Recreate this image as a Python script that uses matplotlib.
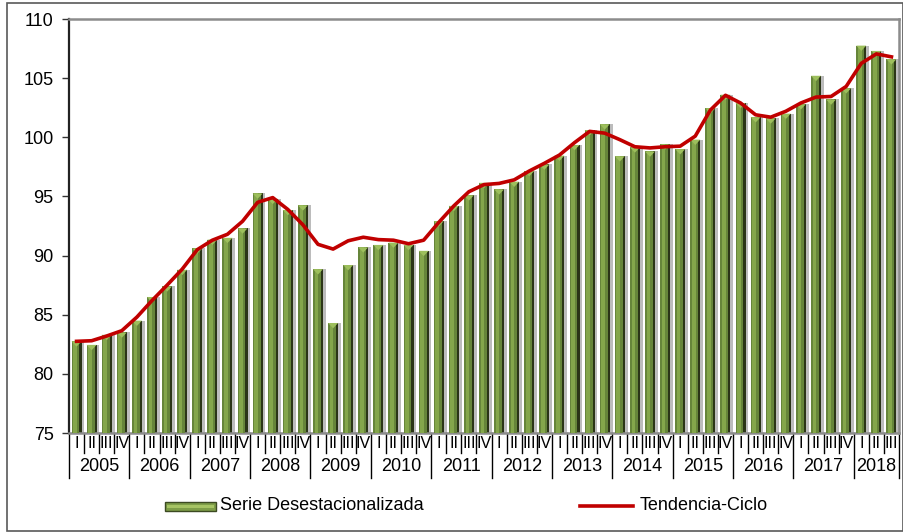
import numpy as np
import matplotlib
matplotlib.use("Agg")
import matplotlib.pyplot as plt
from matplotlib.patches import Rectangle
from matplotlib.lines import Line2D
import matplotlib.transforms as mtransforms

plt.rcParams['font.family'] = ['Liberation Sans', 'DejaVu Sans']

# quarterly data 2005-I .. 2018-III
years = [str(y) for y in range(2005, 2019)]
quarters = ["I", "II", "III", "IV"]

serie = [82.75, 82.45, 83.3, 83.5,
         84.5, 86.5, 87.4, 88.8,
         90.6, 91.35, 91.5, 92.3,
         95.25, 94.8, 93.85, 94.25,
         88.85, 84.3, 89.2, 90.7,
         90.9, 91.1, 90.9, 90.4,
         92.9, 94.2, 95.1, 96.15,
         95.6, 96.25, 97.15, 97.7,
         98.45, 99.35, 100.6, 101.1,
         98.4, 99.15, 98.8, 99.4,
         99.0, 99.8, 102.45, 103.6,
         102.9, 101.7, 101.6, 102.0,
         102.8, 105.2, 103.2, 104.15,
         107.75, 107.3, 106.6]

tendencia = [82.75, 82.8, 83.2, 83.65,
             84.8, 86.2, 87.5, 88.85,
             90.5, 91.3, 91.8, 92.9,
             94.5, 94.9, 93.9, 92.6,
             90.95, 90.55, 91.25, 91.55,
             91.35, 91.3, 91.0, 91.3,
             92.8, 94.2, 95.4, 96.0,
             96.1, 96.4, 97.15, 97.8,
             98.5, 99.55, 100.5, 100.35,
             99.8, 99.2, 99.1, 99.2,
             99.25, 100.1, 102.3, 103.55,
             102.9, 101.9, 101.7, 102.2,
             102.9, 103.4, 103.45, 104.3,
             106.25, 107.05, 106.8]

n = len(serie)
x = np.arange(n)
vals = np.array(serie)

W, H = 904, 532
fig = plt.figure(figsize=(W / 100, H / 100), dpi=100)
ax = fig.add_axes([69 / W, 1 - 433 / H, (899 - 69) / W, (433 - 19) / H])

# bars: shadow, dark body, lit face, highlight, pyramid cap
ax.bar(x + 0.17, vals - 75, bottom=75, width=0.7, color="#bcbcbc", zorder=1)
ax.bar(x, vals - 75, bottom=75, width=0.66, color="#2b3517", zorder=2)
ax.bar(x - 0.07, vals - 75, bottom=75, width=0.52, color="#66853a", zorder=3)
ax.bar(x - 0.1, vals - 75, bottom=75, width=0.24, color="#84a64b", zorder=4)
for xi, v in zip(x, vals):
    ax.fill([xi - 0.33, xi + 0.33, xi], [v, v, v - 0.45],
            color="#9dbf5c", lw=0, zorder=5)

ax.plot(x, tendencia, color="#c00000", lw=2.6, zorder=6,
        solid_joinstyle="round")

ax.set_xlim(-0.5, n - 0.5)
ax.set_ylim(75, 110)
ax.set_yticks(range(75, 111, 5))
ax.tick_params(axis="y", labelsize=13, length=5, width=1, direction="out",
               color="#333333", pad=6)
ax.set_xticks([])
for side in ["top", "right", "bottom"]:
    ax.spines[side].set_color("#8c8c8c")
    ax.spines[side].set_linewidth(1.8)
ax.spines["left"].set_color("#222222")
ax.spines["left"].set_linewidth(1.6)

# two-level category axis
trans = mtransforms.blended_transform_factory(ax.transData, ax.transAxes)
for i in range(n):
    ax.text(i, -0.025, quarters[i % 4], transform=trans, ha="center",
            va="center", fontsize=11.5, clip_on=False)
for b in range(n + 1):
    bx = b - 0.5
    low = -0.108 if (b % 4 == 0 or b == n) else -0.048
    ax.add_line(Line2D([bx, bx], [0, low], transform=trans, color="black",
                       lw=1, clip_on=False))
for k, yr in enumerate(years):
    start = k * 4
    end = min(start + 4, n)
    ax.text((start + end - 1) / 2, -0.082, yr, transform=trans, ha="center",
            va="center", fontsize=13, clip_on=False)

# legend drawn by hand
ly = 1 - 506 / H
fig.add_artist(Rectangle((165 / W, 1 - 511 / H), 51 / W, 9 / H,
                         transform=fig.transFigure, facecolor="#7e9e48",
                         edgecolor="#3c4a22", lw=1))
fig.add_artist(Rectangle((167 / W, 1 - 508 / H), 47 / W, 3 / H,
                         transform=fig.transFigure, facecolor="#a6c463",
                         lw=0))
fig.text(220 / W, ly, "Serie Desestacionalizada", fontsize=13, va="center")
fig.add_artist(Line2D([580 / W, 633 / W], [ly, ly], transform=fig.transFigure,
                      color="#c00000", lw=2.6))
fig.text(640 / W, ly, "Tendencia-Ciclo", fontsize=13, va="center")

# outer frame
fig.add_artist(Rectangle((7 / W, 1 - 531 / H), 896 / W, 528 / H,
                         transform=fig.transFigure, fill=False,
                         edgecolor="#595959", lw=1.2))

fig.savefig("out.png", dpi=100)
